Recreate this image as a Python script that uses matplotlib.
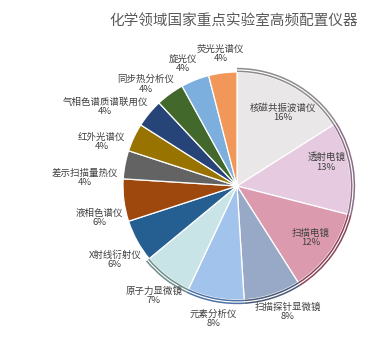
import numpy as np
import matplotlib
matplotlib.use("Agg")
import matplotlib.pyplot as plt
from matplotlib.patches import Arc

plt.rcParams["font.family"] = ["Noto Sans CJK SC", "DejaVu Sans"]

# data, clockwise from 12 o'clock
instruments = ["核磁共振波谱仪", "透射电镜", "扫描电镜", "扫描探针显微镜", "元素分析仪",
               "原子力显微镜", "X射线衍射仪", "液相色谱仪", "差示扫描量热仪", "红外光谱仪",
               "气相色谱质谱联用仪", "同步热分析仪", "旋光仪", "荧光光谱仪"]
shares = [16, 13, 12, 8, 8, 7, 6, 6, 4, 4, 4, 4, 4, 4]

colors = ["#EAE7E8", "#E6CBE0", "#DB9AAE", "#97A9C7", "#A2C4EC", "#C9E4E6", "#255E91",
          "#9E480E", "#636363", "#997300", "#264478", "#43682B", "#7CAFDD", "#F1975A"]
# double outline on the light slices (None = no outline)
ring_colors = ["#8E8B8C", "#8C6F87", "#8B4558", "#4A5A78", "#4F73A8", "#6F8C8C",
               None, None, None, None, None, None, None, None]

# label placement (radius in pie radii, angle clockwise from top in degrees)
label_r = [0.76, 0.81, 0.79, 1.19, 1.18, 1.21, 1.25, 1.24, 1.34, 1.25, 1.35, 1.20, 1.17, 1.17]
label_ang = [32, 75, 125, 158, 190, 217, 239, 257, 273, 288, 301, 318, 336, 353]

fig = plt.figure(figsize=(3.74, 3.37), dpi=100)
cx, cy, rad = 237, 186, 114
ax = fig.add_axes([(cx - rad) / 374, (337 - cy - rad) / 337, 2 * rad / 374, 2 * rad / 337])

wedges, _ = ax.pie(shares, colors=colors, startangle=90, counterclock=False, radius=1.0,
                   wedgeprops=dict(edgecolor="white", linewidth=0.9))
ax.set_xlim(-1, 1)
ax.set_ylim(-1, 1)
ax.axis("off")

for w, rc in zip(wedges, ring_colors):
    if rc is None:
        continue
    for r in (1.006, 1.03):
        arc = Arc((0, 0), 2 * r, 2 * r, theta1=w.theta1, theta2=w.theta2,
                  color=rc, lw=1.1, clip_on=False)
        ax.add_patch(arc)

for name, s, r, a in zip(instruments, shares, label_r, label_ang):
    t = np.deg2rad(90 - a)
    ax.text(r * np.cos(t), r * np.sin(t), f"{name}\n{s}%", ha="center", va="center",
            fontsize=6.8, color="#404040", linespacing=1.05, clip_on=False)

fig.text(234 / 374, 1 - 22 / 337, "化学领域国家重点实验室高频配置仪器", ha="center", va="center",
         fontsize=10.5, color="#595959")

fig.savefig("out.png", dpi=100)
